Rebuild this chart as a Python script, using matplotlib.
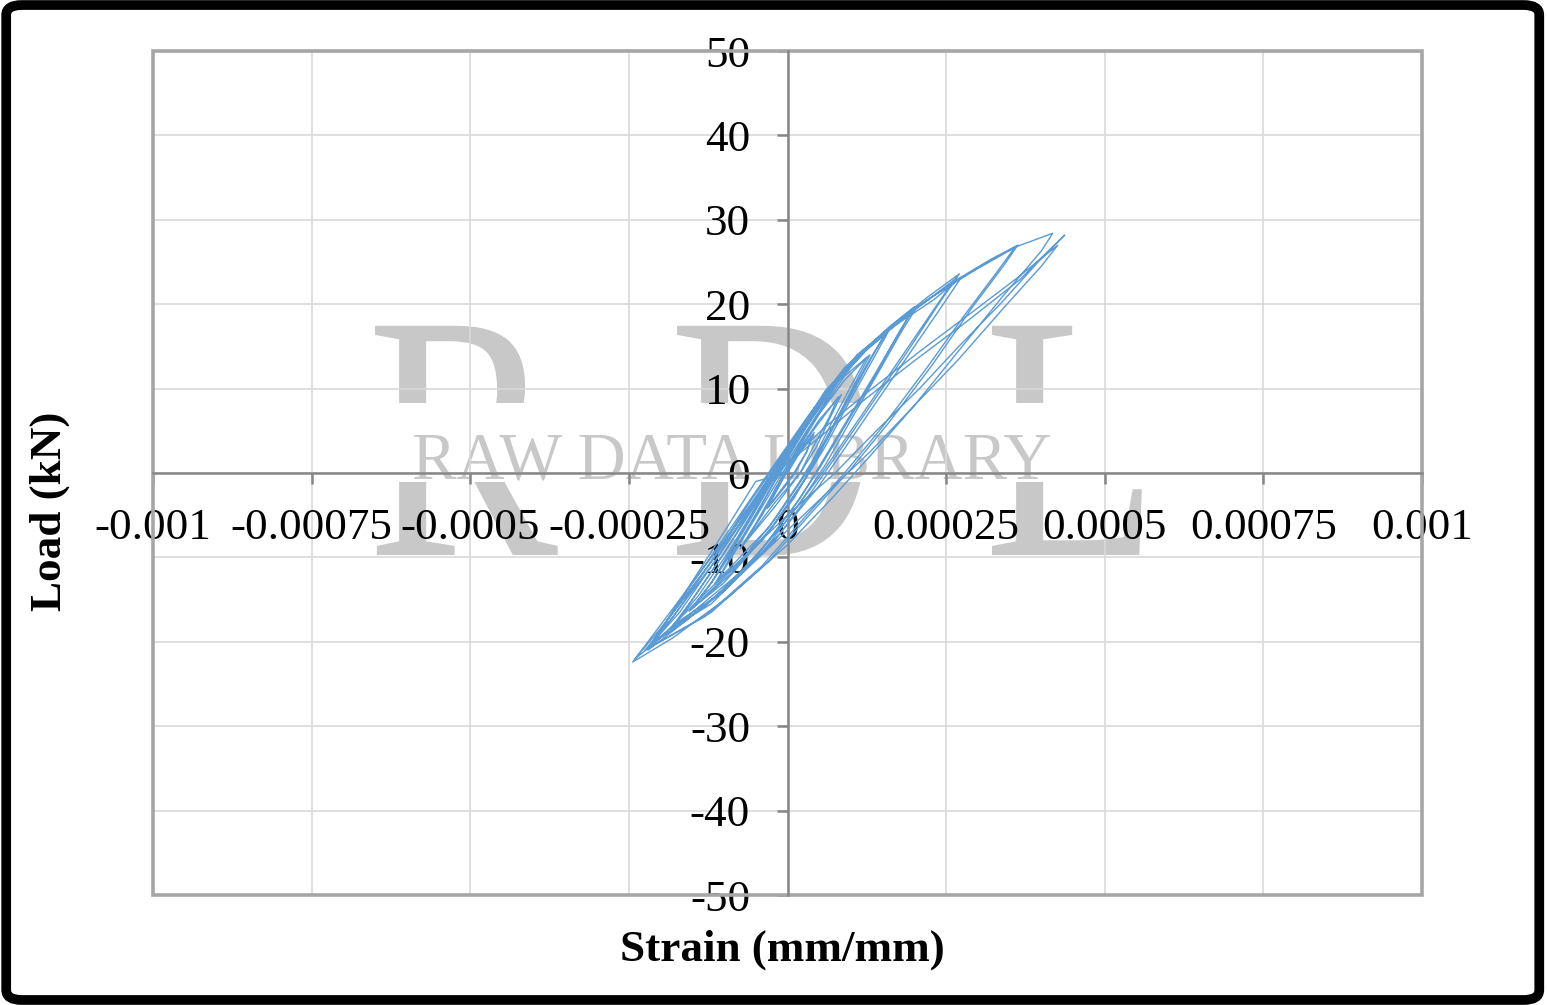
import matplotlib
matplotlib.use("Agg")
import matplotlib.pyplot as plt
from matplotlib.patches import Rectangle, FancyBboxPatch, PathPatch
from matplotlib.textpath import TextPath
from matplotlib.font_manager import FontProperties
from matplotlib.transforms import Affine2D

# Петли гистерезиса: пары (деформация, нагрузка кН), по циклам
cyc_1a = [(0, 0), (0.00002, 2.5), (0.00004, 4.5), (0.00003, 2.5), (0.00001, 0), (-0.00001, -2), (-0.00003, -4)]
cyc_1b = [(-0.00002, -2), (0.0, 0.5), (0.000025, 3), (0.000042, 4.8), (0.00003, 2.5), (0.000012, 0),
          (-0.00001, -2.2), (-0.000032, -4.2)]
cyc_2a = [(-0.000015, -1.8), (0.000005, 1), (0.00004, 5), (0.00008, 9), (0.000065, 6.5), (0.00004, 3),
          (0.00002, 0), (-0.00002, -3.5), (-0.00007, -8.5)]
cyc_2b = [(-0.00004, -5), (-0.00001, -1), (0.00002, 3), (0.00005, 6.3), (0.000085, 9.3), (0.00007, 7),
          (0.000045, 3), (0.00002, 0), (-0.00002, -4), (-0.000075, -9)]
cyc_3a = [(-0.00005, -6), (-0.00002, -2), (0.00001, 2), (0.00005, 7), (0.00009, 11), (0.000125, 13.7),
          (0.000105, 11), (0.00007, 6), (0.00004, 1.5), (0.000015, -1.5), (-0.00003, -6.5), (-0.00011, -12.7)]
cyc_3b = [(-0.00008, -9), (-0.00004, -4), (0.0, 1), (0.00004, 6), (0.00009, 11.5), (0.00013, 14),
          (0.00011, 11.2), (0.000075, 6), (0.000045, 1.5), (0.00001, -3), (-0.00004, -8), (-0.000115, -13.2)]
cyc_4a = [(-0.00009, -10), (-0.00005, -5), (-0.00001, 0.5), (0.00003, 5.5), (0.00008, 11), (0.00012, 14.5),
          (0.000156, 16.6), (0.00013, 13.5), (0.0001, 9.5), (0.00006, 4), (0.00003, 0), (-0.00002, -5.5),
          (-0.00008, -11), (-0.00015, -16)]
cyc_4b = [(-0.00012, -13), (-0.00007, -7), (-0.00002, -0.5), (0.00003, 5.5), (0.00008, 11.2), (0.00013, 15),
          (0.00016, 16.9), (0.000135, 13.5), (0.0001, 8.8), (0.00006, 3.2), (0.00003, -0.5), (-0.00002, -6),
          (-0.00009, -12), (-0.000155, -16.4)]
cyc_4c = [(-0.00012, -13), (-0.00007, -7.5), (-0.00002, -1), (0.00003, 5), (0.00008, 10.8), (0.00012, 14.3),
          (0.000152, 16.3), (0.00013, 13.3), (0.000095, 8.5), (0.000055, 3), (0.000025, -1), (-0.00003, -7),
          (-0.0001, -13), (-0.00015, -16)]
cyc_5a = [(-0.00012, -13), (-0.00008, -8), (-0.00003, -1.5), (0.00002, 4.5), (0.00007, 10), (0.00012, 14.5),
          (0.00016, 17.3), (0.0002, 19.7), (0.00018, 17.2), (0.00014, 12), (0.0001, 7), (0.00006, 2),
          (0.00002, -3), (-0.00004, -9), (-0.00011, -14.5), (-0.00018, -18)]
cyc_5b = [(-0.00015, -15), (-0.0001, -9.5), (-0.00004, -2.5), (0.00001, 3.5), (0.00007, 10.3), (0.00012, 14.6),
          (0.00017, 17.8), (0.000205, 19.8), (0.00018, 16.8), (0.00014, 11.5), (0.0001, 6.3), (0.00006, 1),
          (0.00002, -3.5), (-0.00004, -9.5), (-0.00012, -15.5), (-0.000185, -18.5)]
cyc_5c = [(-0.00014, -14.5), (-0.00009, -9), (-0.00003, -1.5), (0.00002, 4.5), (0.00008, 11), (0.00013, 15),
          (0.00017, 17.5), (0.000198, 19.4), (0.000175, 16.5), (0.00013, 10.5), (0.00009, 5.5), (0.00005, 0.5),
          (0.00001, -4), (-0.00005, -10), (-0.00013, -15.8), (-0.00018, -18.2)]
cyc_6a = [(-0.00015, -15), (-0.0001, -9.5), (-0.00005, -3.5), (0.0, 2.5), (0.00006, 9.5), (0.00011, 14),
          (0.00017, 17.8), (0.00022, 20.8), (0.000271, 23.6), (0.00025, 21.5), (0.0002, 16), (0.00015, 10.5),
          (0.0001, 5), (0.00005, -0.5), (0.0, -5.5), (-0.00007, -11.5), (-0.00015, -16.5), (-0.000213, -20.1)]
cyc_6b = [(-0.00018, -17), (-0.00012, -11), (-0.00006, -4.5), (-0.00001, 1.5), (0.00005, 8.5), (0.00011, 14),
          (0.00017, 17.5), (0.00023, 20.5), (0.000275, 23.3), (0.00025, 20.5), (0.0002, 15), (0.00015, 9.5),
          (0.0001, 4), (0.00005, -1.5), (-0.00001, -7), (-0.00008, -12.5), (-0.00016, -17.5), (-0.000215, -20.3)]
cyc_6c = [(-0.00017, -16.5), (-0.00011, -10), (-0.00005, -3), (0.0, 2.8), (0.00006, 9.8), (0.00012, 14.5),
          (0.00018, 18.3), (0.00023, 21), (0.000268, 23.2), (0.000245, 20.8), (0.00019, 14.5), (0.00014, 9),
          (0.00009, 3.5), (0.00004, -2), (-0.00002, -8), (-0.0001, -14), (-0.00018, -18.5), (-0.00021, -20)]
cyc_7 = [(-0.00019, -17.5), (-0.00013, -11.5), (-0.00007, -5), (-0.00002, 0.5), (0.00004, 7.5), (0.0001, 13),
         (0.00016, 17.2), (0.00022, 20.5), (0.00028, 23.5), (0.00032, 25.3), (0.000363, 27.0), (0.00034, 24.5),
         (0.00029, 19.5), (0.00023, 13), (0.00016, 6), (0.0001, 0.5), (0.00004, -4.5), (-0.00003, -10.5),
         (-0.00012, -16.5), (-0.000225, -21)]
cyc_7b = [(-0.00018, -17), (-0.00012, -10.5), (-0.00006, -3.5), (0.0, 3), (0.00006, 9.5), (0.00012, 14.5),
          (0.00018, 18.2), (0.00024, 21.5), (0.0003, 24.3), (0.00034, 26), (0.000358, 26.7), (0.00033, 23.8),
          (0.00028, 18.8), (0.00022, 12.5), (0.00015, 5.5), (0.00009, 0), (0.00003, -5), (-0.00004, -11),
          (-0.00013, -17), (-0.00022, -20.8)]
cyc_8a = [(-0.0002, -18.5), (-0.00014, -12), (-0.00008, -5.5), (-0.00003, 0), (0.00003, 6.5), (0.00009, 12.5),
          (0.00015, 16.5), (0.00022, 20.5), (0.00029, 23.8), (0.00036, 26.8), (0.000418, 28.4), (0.0004, 26.3),
          (0.00034, 21), (0.00027, 14.5), (0.0002, 8), (0.00013, 2), (0.00007, -3), (0.0, -8.5),
          (-0.00009, -14.5), (-0.00018, -19.5), (-0.000244, -22.4)]
cyc_8b = [(-0.00019, -17), (-0.00013, -11), (-0.00007, -5), (-0.00002, 0), (0.00005, 4.2), (0.00012, 8.6),
          (0.0002, 13.3), (0.00028, 17.8), (0.000366, 22.9), (0.0004, 25.5), (0.000437, 28.2), (0.000395, 25),
          (0.000335, 20), (0.00027, 15), (0.000208, 10), (0.00014, 5), (0.000075, 0), (0.0, -5),
          (-0.00007, -10), (-0.00014, -15), (-0.000207, -20), (-0.00024, -22)]
cyc_8c = [(-0.00019, -17.5), (-0.00013, -11.5), (-0.00007, -5.5), (-0.00001, 0.5), (0.00006, 5.5),
          (0.00013, 9.8), (0.00021, 14.5), (0.00029, 19), (0.00036, 23), (0.000426, 27.0), (0.0004, 24.5),
          (0.00034, 19.5), (0.00027, 13.5), (0.0002, 8), (0.00013, 2.5), (0.00006, -2.5), (-0.00001, -7.5),
          (-0.00008, -12.5), (-0.00016, -17.5), (-0.00022, -21)]
cyc_end = [(-0.00016, -14), (-0.0001, -7), (-0.00005, -1), (0.0, 0)]

cycles = [cyc_1a, cyc_1b, cyc_2a, cyc_2b, cyc_3a, cyc_3b, cyc_4a, cyc_4b, cyc_4c, cyc_5a, cyc_5b, cyc_5c,
          cyc_6a, cyc_6b, cyc_6c, cyc_7, cyc_7b, cyc_8a, cyc_8b, cyc_8c, cyc_end]

x_ticks = [-0.001, -0.00075, -0.0005, -0.00025, 0, 0.00025, 0.0005, 0.00075, 0.001]
x_labels = ["-0.001", "-0.00075", "-0.0005", "-0.00025", "0", "0.00025", "0.0005", "0.00075", "0.001"]
y_ticks = [-50, -40, -30, -20, -10, 0, 10, 20, 30, 40, 50]
y_labels = ["-50", "-40", "-30", "-20", "-10", "0", "10", "20", "30", "40", "50"]

plt.rcParams["font.family"] = ["Liberation Serif", "DejaVu Serif"]

W, H = 1547, 1005
fig = plt.figure(figsize=(W / 100, H / 100), dpi=100)
ax = fig.add_axes([153 / W, 1 - 895 / H, 1269 / W, 844 / H])

# Весь путь нагружения одной линией
strain = [p[0] for c in cycles for p in c]
load = [p[1] for c in cycles for p in c]
ax.plot(strain, load, color="#5B9BD5", lw=1.0, zorder=3)

ax.set_xlim(-0.001, 0.001)
ax.set_ylim(-50, 50)
ax.set_xticks(x_ticks)
ax.set_xticklabels(x_labels)
ax.set_yticks(y_ticks)
ax.set_yticklabels(y_labels)
ax.grid(True, color="#D9D9D9", lw=1.2)
ax.set_axisbelow(True)

# Оси через ноль
ax.spines["left"].set_position(("data", 0))
ax.spines["bottom"].set_position(("data", 0))
ax.spines["right"].set_visible(False)
ax.spines["top"].set_visible(False)
for s in ("left", "bottom"):
    ax.spines[s].set_color("#868686")
    ax.spines[s].set_linewidth(1.8)
    ax.spines[s].set_zorder(2.5)
ax.tick_params(axis="both", colors="#868686", width=1.8, length=8, direction="out",
               labelsize=32.5, labelcolor="black")
ax.tick_params(axis="x", pad=17)
ax.tick_params(axis="y", pad=19)

# Рамка области построения
ax.add_patch(Rectangle((0, 0), 1, 1, transform=ax.transAxes, fill=False,
                       ec="#A6A6A6", lw=2.6, clip_on=False, zorder=2))

# Водяной знак RDL (под сеткой и подписями)
fp = FontProperties(family="Liberation Serif")
for letter, left_px in [("R", 375), ("D", 677), ("L", 992)]:
    tp = TextPath((0, 0), letter, size=350, prop=fp)
    ext = tp.get_extents()
    tr = Affine2D().translate(-ext.x0, 0).scale(0.82, 1.0).translate(left_px, H - 555)
    ax.add_artist(PathPatch(tp, transform=tr, fc="#C8C8C8", ec="none", zorder=0.2))
ax.add_patch(Rectangle((0.171, 0.489), 0.634, 0.094, transform=ax.transAxes,
                       fc="white", ec="none", zorder=0.3))
ax.text(0.456, 0.494, "RAW DATA LIBRARY", transform=ax.transAxes, fontsize=48,
        color="#C8C8C8", ha="center", va="baseline", zorder=0.4)

# Подписи осей
fig.text(782 / W, 1 - 950 / H, "Strain (mm/mm)", fontsize=32.5, fontweight="bold",
         ha="center", va="center")
fig.text(50 / W, 1 - 511 / H, "Load (kN)", fontsize=32.5, fontweight="bold",
         ha="center", va="center", rotation=90)

# Чёрная рамка рисунка
fig.patches.append(FancyBboxPatch((0.004, 0.005), 0.991, 0.99, boxstyle="round,pad=0,rounding_size=0.01",
                                  transform=fig.transFigure, fill=False, ec="black", lw=7))

plt.savefig("out.png", dpi=100)
plt.close(fig)
